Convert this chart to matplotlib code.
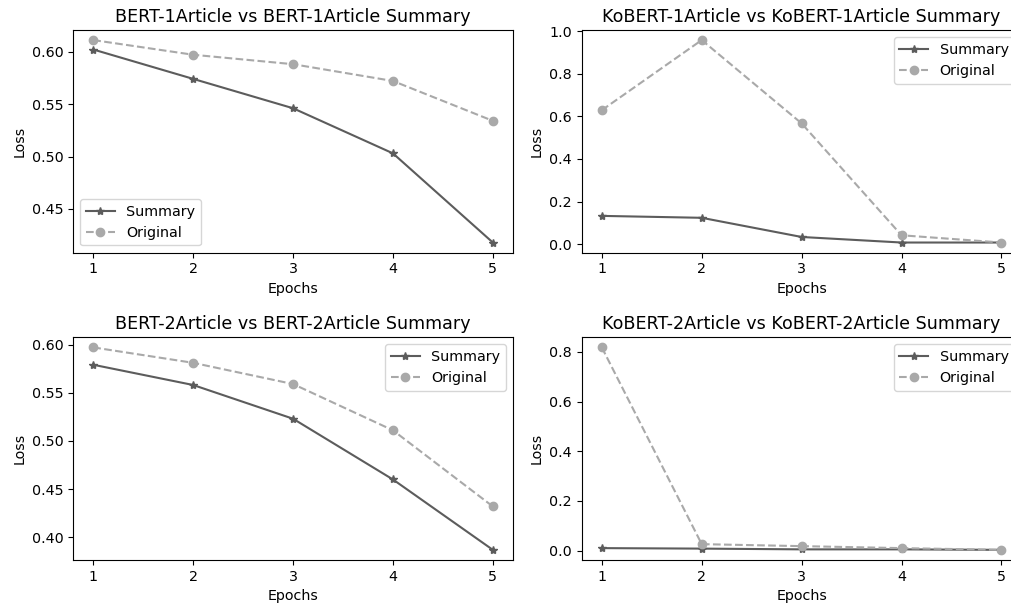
import matplotlib
matplotlib.use('Agg')
import matplotlib.pyplot as plt

epochs = [1, 2, 3, 4, 5]

bert1_summary = [0.602, 0.574, 0.546, 0.503, 0.418]
bert1_original = [0.611, 0.597, 0.588, 0.572, 0.534]

kobert1_summary = [0.133, 0.124, 0.034, 0.008, 0.008]
kobert1_original = [0.629, 0.958, 0.567, 0.042, 0.008]

bert2_summary = [0.579, 0.558, 0.523, 0.460, 0.387]
bert2_original = [0.597, 0.581, 0.559, 0.511, 0.432]

kobert2_summary = [0.010, 0.008, 0.005, 0.005, 0.003]
kobert2_original = [0.818, 0.026, 0.018, 0.010, 0.003]

titles = ['BERT-1Article vs BERT-1Article Summary',
          'KoBERT-1Article vs KoBERT-1Article Summary',
          'BERT-2Article vs BERT-2Article Summary',
          'KoBERT-2Article vs KoBERT-2Article Summary']
legend_locs = ['lower left', 'upper right', 'upper right', 'upper right']

SUMMARY_C = '#5c5c5c'
ORIGINAL_C = '#a9a9a9'

plt.rcParams['font.size'] = 10.3

fig, axes = plt.subplots(2, 2, figsize=(10.12, 6.11), dpi=100)
# right column runs slightly past the figure edge, as in the cropped original
fig.subplots_adjust(left=0.0724, right=1.0093, top=0.951, bottom=0.0835,
                    wspace=0.157, hspace=0.38)

series = [(bert1_summary, bert1_original), (kobert1_summary, kobert1_original),
          (bert2_summary, bert2_original), (kobert2_summary, kobert2_original)]

for ax, (summ, orig), title, loc in zip(axes.flat, series, titles, legend_locs):
    ax.plot(epochs, summ, color=SUMMARY_C, marker='*', linestyle='-', label='Summary')
    ax.plot(epochs, orig, color=ORIGINAL_C, marker='o', linestyle='--', label='Original')
    ax.set_title(title, fontsize=12.6)
    ax.set_xlabel('Epochs')
    ax.set_ylabel('Loss')
    ax.set_xticks(epochs)
    ax.legend(loc=loc)

plt.savefig('out.png', dpi=100)
